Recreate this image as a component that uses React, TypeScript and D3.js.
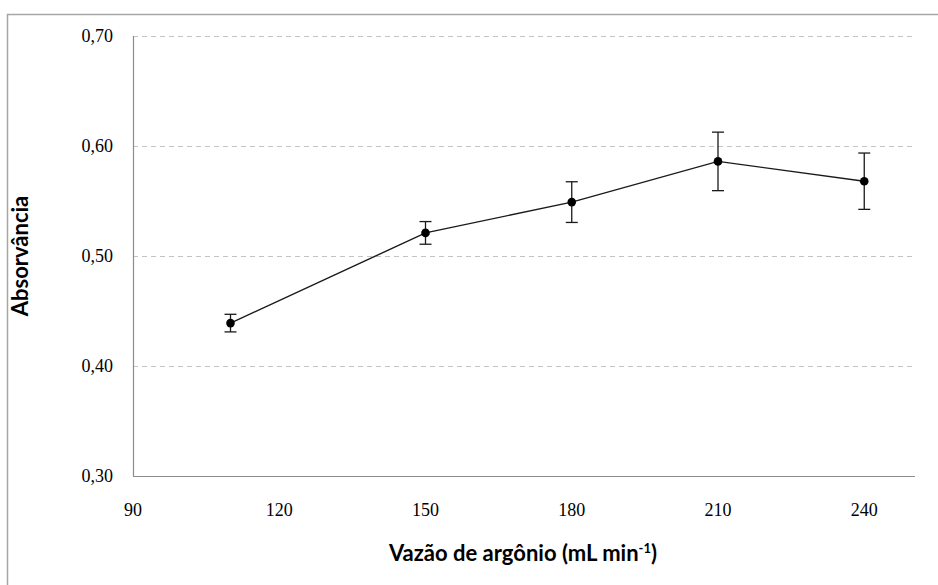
import React from "react";
import * as d3 from "d3";

// Argon flow rate (mL/min) vs. absorbance, mean ± deviation
const flowRates = [110, 150, 180, 210, 240];
const absorbance = [0.439, 0.521, 0.549, 0.586, 0.568];
const deviation = [0.008, 0.0103, 0.0185, 0.0266, 0.0256];
const xTicks = [90, 120, 150, 180, 210, 240];
const yTicks = [0.3, 0.4, 0.5, 0.6, 0.7];

const W = 938;
const H = 585;
const plot = { left: 133, right: 913, top: 36, bottom: 476 };

export default function App() {
  const x = d3.scaleLinear().domain([90, 250]).range([plot.left, plot.right]);
  const y = d3.scaleLinear().domain([0.3, 0.7]).range([plot.bottom, plot.top]);
  const line = d3
    .line<number>()
    .x((_, i) => x(flowRates[i]))
    .y((d) => y(d));
  const fmt = (v: number) => v.toFixed(2).replace(".", ",");
  const titleFont = "Lato, 'Open Sans', sans-serif";
  const tickFont = "'Liberation Serif', serif";

  return (
    <svg
      width={W}
      height={H}
      style={{ position: "absolute", left: 0, top: 0, background: "#fff" }}
    >
      {/* chart frame (open on the right and bottom) */}
      <path d={`M7.5,${H} V14.5 H${W}`} fill="none" stroke="#a6a6a6" strokeWidth={1.5} />

      {/* horizontal gridlines */}
      {yTicks
        .filter((t) => t > 0.3)
        .map((t) => (
          <line
            key={t}
            x1={plot.left}
            x2={plot.right}
            y1={Math.round(y(t)) + 0.5}
            y2={Math.round(y(t)) + 0.5}
            stroke="#c4c4c4"
            strokeDasharray="5,4"
          />
        ))}

      {/* axes */}
      <line x1={plot.left + 0.5} x2={plot.left + 0.5} y1={plot.top} y2={plot.bottom} stroke="#8c8c8c" strokeWidth={1.2} />
      <line x1={plot.left} x2={plot.right + 2} y1={plot.bottom + 0.5} y2={plot.bottom + 0.5} stroke="#8c8c8c" strokeWidth={1.2} />

      {/* y tick labels */}
      {yTicks.map((t) => (
        <text
          key={t}
          x={plot.left - 20}
          y={y(t)}
          dy="0.35em"
          textAnchor="end"
          fontFamily={tickFont}
          fontSize={18}
          fill="#000"
        >
          {fmt(t)}
        </text>
      ))}

      {/* x tick labels */}
      {xTicks.map((t) => (
        <text
          key={t}
          x={x(t)}
          y={plot.bottom + 40}
          textAnchor="middle"
          fontFamily={tickFont}
          fontSize={18}
          fill="#000"
        >
          {t}
        </text>
      ))}

      {/* series line */}
      <path d={line(absorbance) ?? ""} fill="none" stroke="#1a1a1a" strokeWidth={1.4} />

      {/* error bars */}
      {absorbance.map((v, i) => {
        const cx = x(flowRates[i]);
        const y1 = y(v + deviation[i]);
        const y2 = y(v - deviation[i]);
        return (
          <g key={i} stroke="#1a1a1a" strokeWidth={1.3}>
            <line x1={cx} x2={cx} y1={y1} y2={y2} />
            <line x1={cx - 6} x2={cx + 6} y1={y1} y2={y1} />
            <line x1={cx - 6} x2={cx + 6} y1={y2} y2={y2} />
          </g>
        );
      })}

      {/* markers */}
      {absorbance.map((v, i) => (
        <circle key={i} cx={x(flowRates[i])} cy={y(v)} r={4.3} fill="#000" />
      ))}

      {/* axis titles */}
      <text
        x={(plot.left + plot.right) / 2}
        y={561}
        textAnchor="middle"
        fontFamily={titleFont}
        fontWeight={700}
        fontSize={22}
        fill="#000"
      >
        Vazão de argônio (mL min
        <tspan dy={-8} fontSize={13}>-1</tspan>
        <tspan dy={8}>)</tspan>
      </text>
      <text
        transform={`translate(${28},${(plot.top + plot.bottom) / 2}) rotate(-90)`}
        textAnchor="middle"
        fontFamily={titleFont}
        fontWeight={700}
        fontSize={22}
        fill="#000"
      >
        Absorvância
      </text>
    </svg>
  );
}
